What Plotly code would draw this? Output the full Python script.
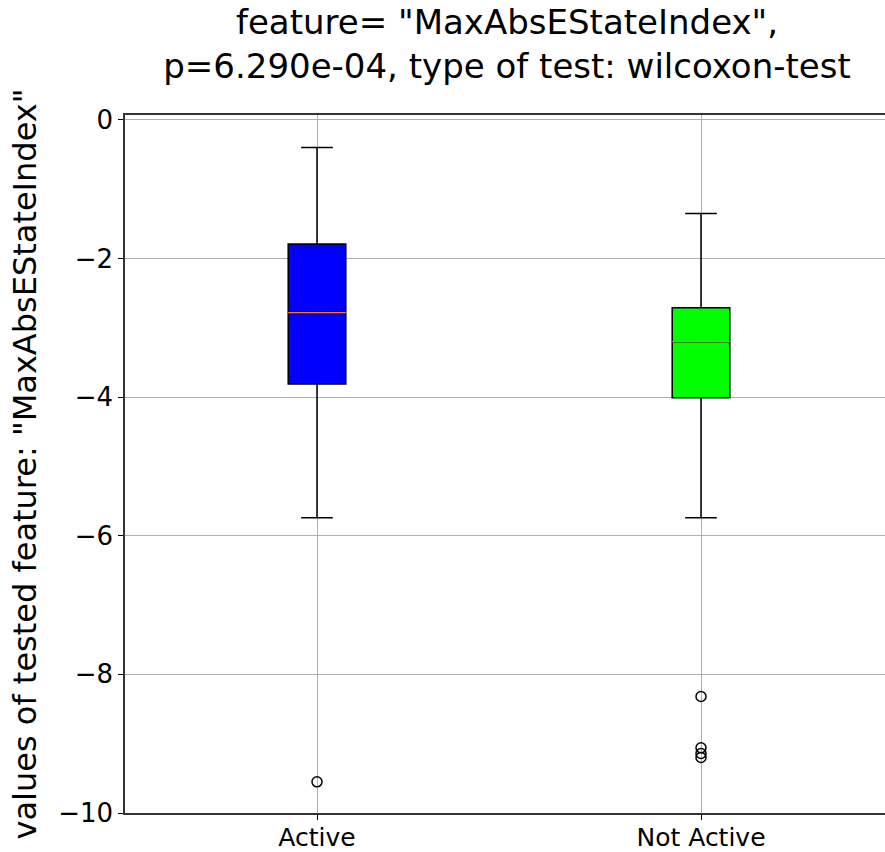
import plotly.graph_objects as go

categories = ["Active", "Not Active"]
positions = [1, 2]
q1 = [-3.81, -4.01]
median = [-2.78, -3.20]
q3 = [-1.79, -2.71]
lower_whisker = [-5.74, -5.74]
upper_whisker = [-0.40, -1.35]
outliers = [[-9.55], [-8.32, -9.06, -9.14, -9.20]]
box_colors = ["#0000ff", "#00ff00"]
y_ticks = [0, -2, -4, -6, -8, -10]

FONT = "DejaVu Sans"
fig = go.Figure()

for i, cat in enumerate(categories):
    fig.add_trace(go.Box(
        x=[positions[i]], q1=[q1[i]], median=[median[i]], q3=[q3[i]],
        lowerfence=[lower_whisker[i]], upperfence=[upper_whisker[i]],
        fillcolor=box_colors[i], line=dict(color="black", width=1.5),
        width=0.15, whiskerwidth=0.55, boxpoints=False, name=cat,
        showlegend=False, hoverinfo="skip",
    ))
    fig.add_trace(go.Scatter(
        x=[positions[i] - 0.075, positions[i] + 0.075], y=[median[i], median[i]],
        mode="lines", line=dict(color="#ff7f0e", width=1.2),
        showlegend=False, hoverinfo="skip",
    ))
    fig.add_trace(go.Scatter(
        x=[positions[i]] * len(outliers[i]), y=outliers[i], mode="markers",
        marker=dict(symbol="circle-open", size=10, color="black",
                    line=dict(color="black", width=1.5)),
        showlegend=False,
    ))

fig.update_layout(
    width=885, height=852,
    margin=dict(l=125, r=0, t=115, b=39),
    paper_bgcolor="white", plot_bgcolor="white",
    font=dict(family=FONT, color="black", size=26),
    title=dict(
        text='feature= "MaxAbsEStateIndex",<br>p=6.290e-04, type of test: wilcoxon-test',
        x=507 / 885, xanchor="center", y=1 - 34 / 852, yanchor="middle",
        font=dict(family=FONT, size=34, color="black"),
    ),
    xaxis=dict(
        range=[0.5, 0.5 + 760 / 384], tickmode="array", tickvals=positions,
        ticktext=categories, showgrid=True, gridcolor="#b0b0b0", gridwidth=1,
        showline=True, linecolor="#333333", linewidth=1.5, mirror=True,
        ticks="outside", ticklen=5, tickcolor="black", zeroline=False,
        tickfont=dict(size=25), automargin=False, ticklabelstandoff=-4,
    ),
    yaxis=dict(
        range=[-10.0, 0.07], tickmode="array", tickvals=y_ticks,
        showgrid=True, gridcolor="#b0b0b0", gridwidth=1,
        showline=True, linecolor="#333333", linewidth=1.5, mirror=False,
        ticks="outside", ticklen=5, tickcolor="black", zeroline=False,
        tickfont=dict(size=26), automargin=False,
        title=dict(text='values of tested feature: "MaxAbsEStateIndex"',
                   font=dict(size=32), standoff=12),
    ),
)

fig.write_html("out.html")
